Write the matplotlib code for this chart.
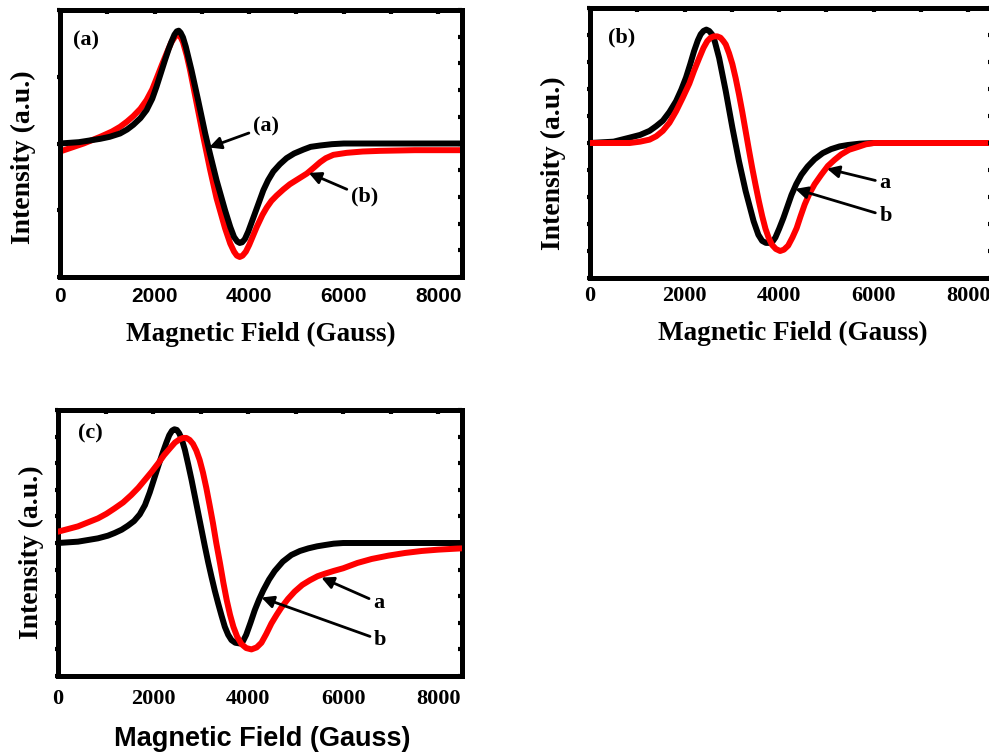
import numpy as np
import matplotlib
matplotlib.use("Agg")
import matplotlib.pyplot as plt

SERIF = "Liberation Serif"
SANS = "Liberation Sans"

# ---- EPR spectra, field in Gauss, intensity in arbitrary units ----
# panel (a)
a_black_x = [0, 400, 850, 1050, 1270, 1420, 1550, 1700, 1830, 1950, 2040, 2130, 2220, 2300, 2360,
             2420, 2470, 2510, 2550, 2600, 2660, 2780, 2920, 3070, 3170, 3310, 3490, 3600, 3680,
             3750, 3800, 3850, 3910, 3980, 4120, 4300, 4400, 4510, 4650, 4790, 4950, 5150, 5300,
             5500, 5750, 6000, 8500]
a_black_y = [0, 0.02, 0.07, 0.10, 0.15, 0.21, 0.28, 0.38, 0.50, 0.67, 0.85, 1.05, 1.25, 1.42, 1.53,
             1.63, 1.68, 1.69, 1.66, 1.59, 1.45, 1.10, 0.65, 0.15, -0.15, -0.55, -1.00, -1.25, -1.40,
             -1.47, -1.49, -1.48, -1.43, -1.32, -1.05, -0.70, -0.55, -0.42, -0.31, -0.22, -0.15,
             -0.09, -0.05, -0.03, -0.01, 0, 0]
a_red_x = [0, 250, 500, 850, 1100, 1270, 1420, 1550, 1700, 1830, 1950, 2040, 2150, 2260, 2350, 2430,
           2490, 2540, 2600, 2680, 2750, 2890, 3030, 3170, 3310, 3490, 3600, 3680, 3740, 3800, 3860,
           3930, 4000, 4160, 4280, 4370, 4470, 4580, 4720, 4860, 5040, 5220, 5370, 5500, 5620, 5780,
           6060, 6400, 6770, 7500, 8500]
a_red_y = [-0.12, -0.06, 0.0, 0.10, 0.18, 0.25, 0.33, 0.41, 0.52, 0.65, 0.81, 0.97, 1.17, 1.36, 1.51,
           1.60, 1.63, 1.61, 1.52, 1.32, 1.10, 0.60, 0.10, -0.38, -0.82, -1.27, -1.50, -1.62, -1.68,
           -1.70, -1.68, -1.62, -1.52, -1.25, -1.07, -0.96, -0.86, -0.78, -0.69, -0.61, -0.53, -0.45,
           -0.36, -0.28, -0.22, -0.17, -0.14, -0.12, -0.11, -0.10, -0.10]

# panel (b)
b_black_x = [0, 500, 840, 1060, 1260, 1400, 1540, 1680, 1820, 1930, 2030, 2120, 2200, 2280, 2340,
             2400, 2460, 2520, 2580, 2640, 2730, 2870, 3010, 3150, 3290, 3460, 3560, 3640, 3720,
             3800, 3860, 3920, 4000, 4090, 4180, 4260, 4360, 4470, 4600, 4750, 4920, 5100, 5280,
             5450, 5700, 6000, 8500]
b_black_y = [0, 0.02, 0.08, 0.12, 0.18, 0.25, 0.33, 0.46, 0.62, 0.79, 0.97, 1.17, 1.36, 1.52, 1.61,
             1.66, 1.68, 1.66, 1.61, 1.50, 1.26, 0.77, 0.23, -0.27, -0.71, -1.16, -1.36, -1.45,
             -1.48, -1.48, -1.46, -1.40, -1.27, -1.11, -0.93, -0.77, -0.61, -0.47, -0.35, -0.24,
             -0.15, -0.09, -0.05, -0.03, -0.01, 0, 0]
b_red_x = [0, 840, 1060, 1260, 1400, 1540, 1680, 1820, 1960, 2100, 2200, 2310, 2400, 2480, 2550,
           2620, 2690, 2760, 2820, 2870, 2940, 3010, 3080, 3150, 3220, 3290, 3360, 3430, 3500, 3570,
           3640, 3710, 3780, 3850, 3930, 4020, 4100, 4190, 4280, 4370, 4450, 4540, 4640, 4750, 4890,
           5030, 5170, 5310, 5480, 5660, 5830, 6000, 8500]
b_red_y = [0, 0.0, 0.02, 0.05, 0.10, 0.18, 0.30, 0.47, 0.67, 0.88, 1.07, 1.26, 1.41, 1.51, 1.56,
           1.58, 1.58, 1.56, 1.51, 1.46, 1.33, 1.17, 0.96, 0.72, 0.46, 0.18, -0.10, -0.37, -0.62,
           -0.86, -1.08, -1.27, -1.41, -1.51, -1.57, -1.60, -1.58, -1.52, -1.40, -1.26, -1.09,
           -0.91, -0.75, -0.61, -0.47, -0.34, -0.25, -0.17, -0.10, -0.06, -0.02, 0, 0]

# panel (c)
c_black_x = [0, 420, 840, 1050, 1190, 1340, 1470, 1600, 1720, 1830, 1930, 2020, 2110, 2200, 2280,
             2340, 2400, 2450, 2500, 2550, 2600, 2670, 2740, 2810, 2880, 2950, 3020, 3090, 3160,
             3230, 3300, 3370, 3440, 3510, 3580, 3650, 3730, 3820, 3890, 3960, 4050, 4140, 4230,
             4320, 4440, 4560, 4730, 4910, 5090, 5270, 5450, 5620, 5800, 6000, 8500]
c_black_y = [0, 0.02, 0.07, 0.11, 0.15, 0.20, 0.26, 0.33, 0.43, 0.57, 0.76, 0.96, 1.16, 1.35, 1.51,
             1.62, 1.69, 1.71, 1.70, 1.65, 1.57, 1.40, 1.18, 0.95, 0.70, 0.45, 0.20, -0.05, -0.29,
             -0.51, -0.72, -0.91, -1.09, -1.26, -1.38, -1.46, -1.50, -1.51, -1.48, -1.38, -1.20,
             -1.01, -0.85, -0.71, -0.55, -0.42, -0.28, -0.18, -0.12, -0.08, -0.05, -0.03, -0.01,
             0, 0]
c_red_x = [0, 420, 840, 1020, 1190, 1370, 1540, 1690, 1830, 1970, 2110, 2230, 2350, 2460, 2560,
           2630, 2700, 2770, 2840, 2910, 2980, 3050, 3120, 3190, 3260, 3330, 3410, 3480, 3550, 3620,
           3690, 3770, 3860, 3960, 4070, 4180, 4280, 4380, 4490, 4600, 4700, 4840, 4980, 5140, 5300,
           5460, 5620, 5800, 6000, 6300, 6600, 6950, 7300, 7650, 8000, 8500]
c_red_y = [0.17, 0.25, 0.37, 0.44, 0.52, 0.61, 0.72, 0.83, 0.95, 1.07, 1.20, 1.32, 1.42, 1.51,
           1.56, 1.58, 1.58, 1.55, 1.49, 1.39, 1.25, 1.06, 0.83, 0.57, 0.30, 0.00, -0.31, -0.60,
           -0.86, -1.08, -1.26, -1.41, -1.52, -1.58, -1.60, -1.57, -1.50, -1.37, -1.21, -1.08,
           -0.97, -0.84, -0.73, -0.63, -0.56, -0.50, -0.46, -0.42, -0.38, -0.30, -0.24, -0.19,
           -0.15, -0.12, -0.10, -0.08]

field_ticks = [0, 2000, 4000, 6000, 8000]
xlabel = "Magnetic Field (Gauss)"
ylabel = "Intensity (a.u.)"

W, H = 989, 753
fig = plt.figure(figsize=(W / 100, H / 100), dpi=100)
fig.patch.set_facecolor("white")


def px_axes(left, top, right, bottom):
    return fig.add_axes([left / W, 1 - bottom / H, (right - left) / W, (bottom - top) / H])


def style(ax, left_step, tick_font, tick_size, pad):
    ax.set_xlim(0, 8500)
    ax.set_ylim(-2, 2)
    ax.set_xticks(field_ticks)
    ax.set_xticks(np.arange(1000, 8001, 2000), minor=True)
    ax.set_yticks(np.arange(-2, 2.01, left_step))
    ax.set_yticklabels([])
    for s in ax.spines.values():
        s.set_linewidth(3.6)
    ax.tick_params(which="both", direction="out", length=2.5, width=3, top=False, right=False,
                   pad=pad, labelsize=tick_size)
    for lab in ax.get_xticklabels():
        lab.set_family(tick_font)
        lab.set_weight("bold")
    # mirrored ticks on the opposite spines point inward
    tx = ax.twinx()
    tx.set_ylim(-2, 2)
    tx.set_yticks(np.arange(-2, 2.01, 0.4))
    tx.tick_params(axis="y", direction="in", length=3, width=3, labelright=False)
    ty = ax.twiny()
    ty.set_xlim(0, 8500)
    ty.set_xticks(np.arange(0, 8001, 1000))
    ty.tick_params(axis="x", direction="in", length=3, width=3, labeltop=False)
    for t in (tx, ty):
        for s in t.spines.values():
            s.set_visible(False)


def labels(ax, xfont, xpos, ypos):
    ax.set_xlabel(xlabel, fontsize=19.5, fontweight="bold", family=xfont)
    ax.xaxis.set_label_coords(*xpos)
    ax.xaxis.label.set_verticalalignment("center")
    ax.set_ylabel(ylabel, fontsize=20, fontweight="bold", family=SERIF)
    ax.yaxis.set_label_coords(*ypos)
    ax.yaxis.label.set_verticalalignment("center")


def tag(ax, text, x, y):
    ax.text(x, y, text, transform=ax.transAxes, ha="left", va="center",
            fontsize=16, fontweight="bold", family=SERIF)


def note(ax, text, xy, xytext):
    ax.annotate(text, xy=xy, xytext=xytext, ha="left", va="center",
                fontsize=16, fontweight="bold", family=SERIF,
                arrowprops=dict(arrowstyle="-|>", color="black", lw=2,
                                mutation_scale=18, shrinkA=1, shrinkB=0))


lw = 4.3
line_kw = dict(lw=lw, solid_joinstyle="round", solid_capstyle="round")

# (a)
ax = px_axes(60, 10, 462, 277)
ax.plot(a_red_x, a_red_y, color="#ff0000", zorder=2, **line_kw)
ax.plot(a_black_x, a_black_y, color="black", zorder=3, **line_kw)
style(ax, 1.0, SANS, 15, 5)
labels(ax, SERIF, (0.5, -0.215), (-0.092, 0.45))
tag(ax, "(a)", 0.032, 0.885)
note(ax, "(a)", (3150, -0.06), (4080, 0.25))
note(ax, "(b)", (5260, -0.44), (6150, -0.80))

# (b)
ax = px_axes(590, 8, 992, 278)
ax.plot(b_black_x, b_black_y, color="black", zorder=2, **line_kw)
ax.plot(b_red_x, b_red_y, color="#ff0000", zorder=3, **line_kw)
style(ax, 0.4, SERIF, 16, 3)
labels(ax, SERIF, (0.505, -0.205), (-0.09, 0.427))
tag(ax, "(b)", 0.045, 0.89)
note(ax, "a", (5010, -0.38), (6120, -0.59))
note(ax, "b", (4340, -0.68), (6120, -1.08))

# (c)
ax = px_axes(58, 410, 462, 676)
ax.plot(c_black_x, c_black_y, color="black", zorder=2, **line_kw)
ax.plot(c_red_x, c_red_y, color="#ff0000", zorder=3, **line_kw)
style(ax, 0.4, SERIF, 16, 7)
labels(ax, SANS, (0.505, -0.235), (-0.065, 0.466))
tag(ax, "(c)", 0.05, 0.91)
note(ax, "a", (5540, -0.52), (6630, -0.90))
note(ax, "b", (4280, -0.82), (6650, -1.46))

fig.savefig("out.png", dpi=100)
